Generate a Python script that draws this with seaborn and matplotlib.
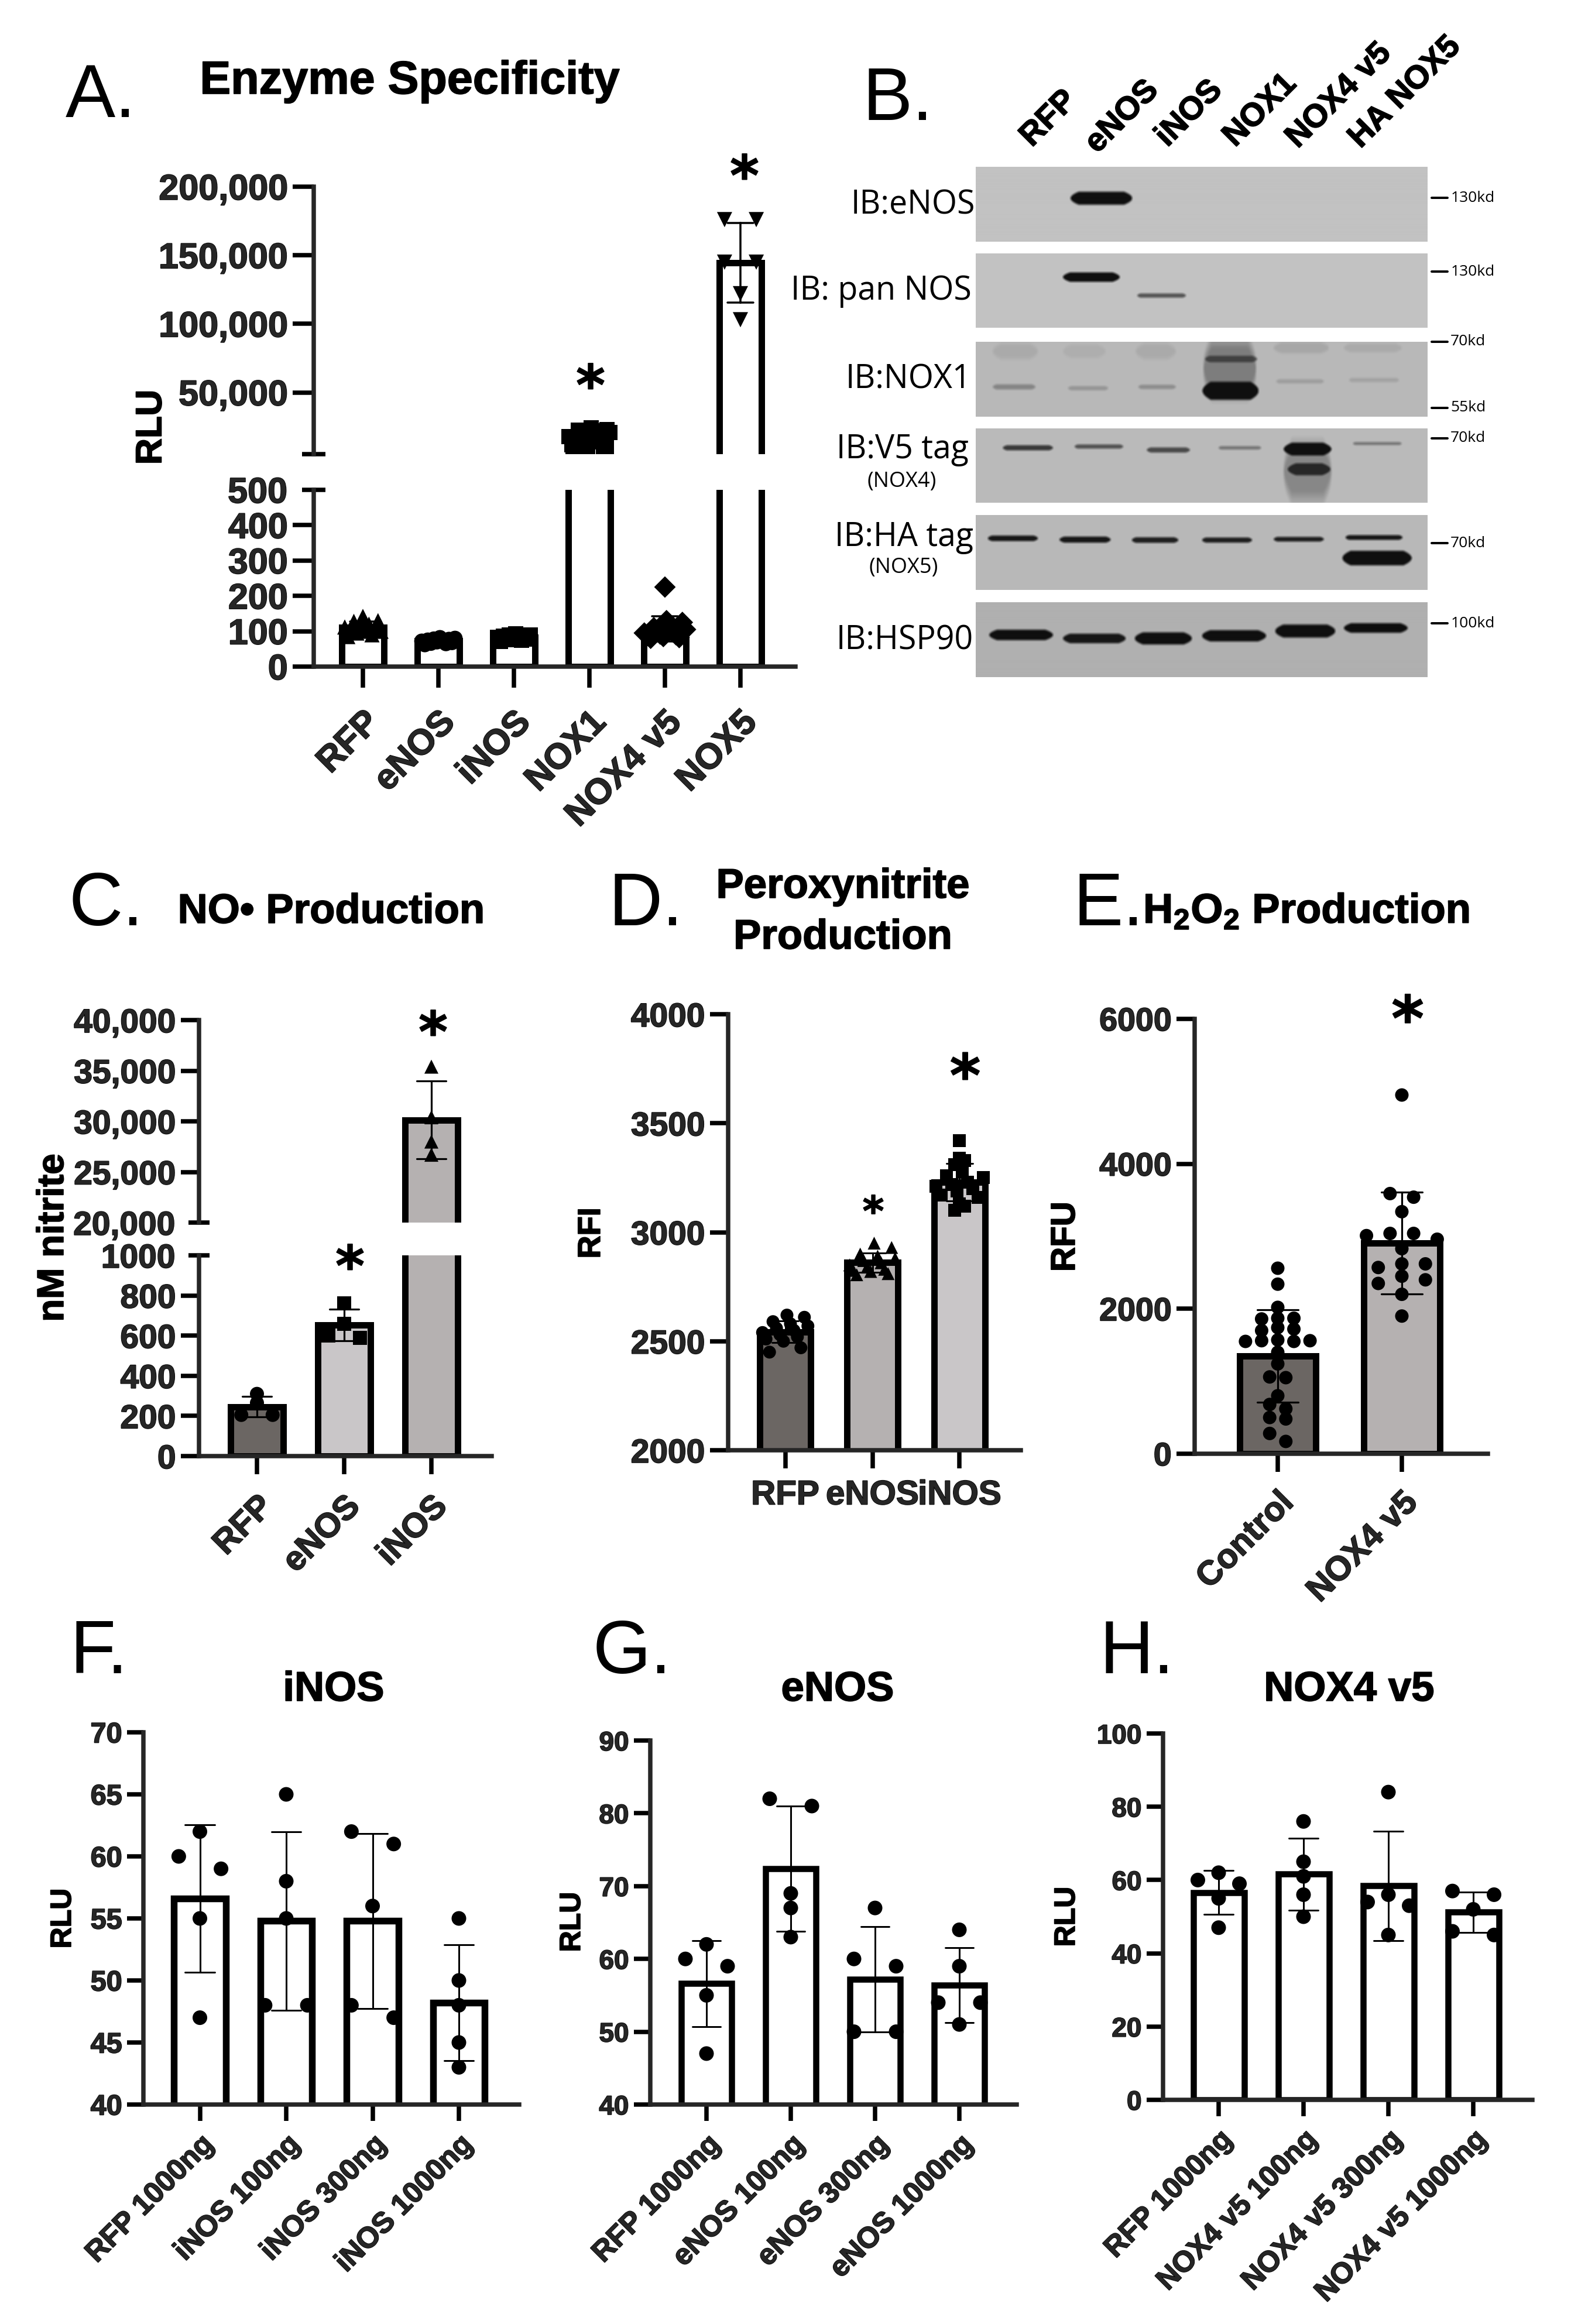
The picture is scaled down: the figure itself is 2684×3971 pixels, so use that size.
import math
import numpy as np
import pandas as pd
import matplotlib
matplotlib.use("Agg")
import matplotlib.pyplot as plt
import matplotlib.patheffects as pe
import matplotlib.text as mtext
import seaborn as sns

sns.set_theme(style="ticks")
plt.rcParams['font.family'] = ['Liberation Sans', 'DejaVu Sans']
plt.rcParams['mathtext.fontset'] = 'custom'
plt.rcParams['mathtext.bf'] = 'Liberation Sans:bold'
plt.rcParams['mathtext.rm'] = 'Liberation Sans'

W, H = 2684, 3971
PT = 0.72
DARK, MID, LIGHT = '#6b6663', '#b5b1b1', '#c9c6c8'

# ---------- data -----------------------------------------------------------
A_cats = ['RFP', 'eNOS', 'iNOS', 'NOX1', 'NOX4 v5', 'NOX5']
A_rfp = [142, 132, 128, 130, 120, 112, 110, 108, 105, 100, 100, 95, 90, 85]
A_enos = [82, 80, 78, 77, 75, 74, 72, 70, 68, 66, 65, 62]
A_inos = [92, 90, 89, 88, 86, 84, 82, 80, 78, 76, 74, 72]
A_nox1 = [24000, 23000, 22500, 22000, 21000, 20000, 19000, 18000, 16000, 14000, 12000, 10000, 9000, 8000]
A_nox4 = [225, 130, 125, 110, 108, 105, 100, 98, 95, 92, 90, 88, 85, 82, 80]
A_nox5 = [176000, 176000, 145000, 145000, 122000, 103000]
A_upper_ticks = [50000, 100000, 150000, 200000]
A_upper_labels = ['50,000', '100,000', '150,000', '200,000']
A_lower_ticks = [0, 100, 200, 300, 400]

C_cats = ['RFP', 'eNOS', 'iNOS']
C_rfp = [310, 265, 205, 205]
C_enos = [760, 660, 600, 590]
C_inos = [35400, 30400, 28000, 26700]
C_upper_ticks = [25000, 30000, 35000, 40000]
C_upper_labels = ['25,000', '30,000', '35,000', '40,000']
C_lower_ticks = [0, 200, 400, 600, 800]

D_cats = ['RFP', 'eNOS', 'iNOS']
D_rfp = [2620, 2610, 2590, 2580, 2570, 2560, 2550, 2540, 2530, 2520, 2510, 2500, 2470, 2450]
D_enos = [2950, 2930, 2900, 2890, 2880, 2870, 2860, 2850, 2840, 2830, 2825, 2820, 2810, 2805]
D_inos = [3420, 3340, 3330, 3310, 3275, 3260, 3250, 3230, 3220, 3210, 3200, 3190, 3170, 3160, 3130, 3120, 3100]
D_ticks = [2000, 2500, 3000, 3500, 4000]

E_cats = ['Control', 'NOX4 v5']
E_control = [2560, 2340, 2020, 1870, 1870, 1860, 1740, 1720, 1700, 1570, 1560, 1560, 1550, 1550,
             1400, 1240, 1060, 1050, 800, 680, 620, 500, 480, 280, 170]
E_nox4 = [4950, 3590, 3540, 3340, 3040, 3040, 3010, 2960, 2830, 2620, 2620, 2570, 2450, 2400, 2350, 2200, 1900]
E_ticks = [0, 2000, 4000, 6000]

F_cats = ['RFP 1000ng', 'iNOS 100ng', 'iNOS 300ng', 'iNOS 1000ng']
F_vals = [[62, 60, 59, 55, 47], [65, 58, 55, 48, 48], [62, 61, 56, 48, 47], [55, 50, 48, 45, 43]]
F_ticks = [40, 45, 50, 55, 60, 65, 70]

G_cats = ['RFP 1000ng', 'eNOS 100ng', 'eNOS 300ng', 'eNOS 1000ng']
G_vals = [[62, 60, 59, 55, 47], [82, 81, 69, 67, 63], [67, 60, 59, 50, 50], [64, 59, 54, 54, 51]]
G_ticks = [40, 50, 60, 70, 80, 90]

H_cats = ['RFP 1000ng', 'NOX4 v5 100ng', 'NOX4 v5 300ng', 'NOX4 v5 1000ng']
H_vals = [[62, 60, 59, 55, 47], [76, 65, 61, 56, 50], [84, 56, 54, 53, 45], [57, 56, 52, 46, 45]]
H_ticks = [0, 20, 40, 60, 80, 100]

B_lanes = ['RFP', 'eNOS', 'iNOS', 'NOX1', 'NOX4 v5', 'HA NOX5']
B_rows = ['IB:eNOS', 'IB: pan NOS', 'IB:NOX1', 'IB:V5 tag', 'IB:HA tag', 'IB:HSP90']
B_sizes = ['130kd', '130kd', '70kd', '55kd', '70kd', '70kd', '100kd']
# band = x start, x end, y centre, thickness, darkness (in crop-units of the blot region)
B_bands = [
    [(570, 693, 394, 30, 1.0)],
    [(555, 668, 577, 22, 1.0), (703, 800, 620, 10, .6)],
    [(415, 505, 750, 35, .08), (555, 640, 750, 30, .06), (700, 780, 750, 35, .08), (975, 1085, 742, 25, .1),
     (1115, 1230, 742, 20, .08), (415, 500, 833, 12, .3), (565, 645, 836, 10, .2), (705, 780, 833, 10, .25),
     (980, 1075, 820, 10, .15), (1125, 1225, 817, 10, .12), (835, 940, 790, 130, .35), (838, 942, 768, 15, .55),
     (833, 945, 842, 42, 1.0)],
    [(435, 535, 975, 12, .75), (578, 675, 972, 10, .6), (722, 808, 980, 12, .65), (865, 950, 975, 8, .4),
     (1133, 1230, 965, 7, .4), (995, 1090, 1030, 130, .3), (995, 1090, 978, 30, 1.0), (1003, 1088, 1025, 28, .8)],
    [(405, 505, 1186, 13, .95), (548, 650, 1189, 14, .95), (692, 785, 1190, 13, .9), (832, 932, 1190, 12, .9),
     (975, 1075, 1188, 11, .9), (1118, 1232, 1184, 11, .95), (1112, 1250, 1232, 34, 1.0)],
    [(408, 535, 1412, 24, 1), (555, 680, 1420, 22, .95), (698, 812, 1420, 28, 1), (832, 960, 1414, 26, 1),
     (978, 1098, 1403, 30, 1), (1115, 1242, 1396, 22, 1)],
]
B_grey = [.76, .76, .72, .73, .72, .69]

# ---------- helpers --------------------------------------------------------
fig = plt.figure(figsize=(W / 100, H / 100), dpi=100, facecolor='white')


def fx(x):
    return x / W


def fy(y):
    return 1 - y / H


def ftext(x, y, s, size, weight='bold', ha='center', va='baseline', rot=0, **kw):
    return fig.text(fx(x), fy(y), s, fontsize=size, fontweight=weight, ha=ha, va=va, rotation=rot,
                    color=kw.pop('color', 'black'), **kw)


def new_ax(l, r, t, b, c0, dx):
    ax = fig.add_axes([fx(l), fy(b), (r - l) / W, (b - t) / H])
    ax.patch.set_alpha(0)
    ax._lim = ((l - c0) / dx, (r - c0) / dx)
    return ax


def spread(vals, gap, d):
    """Prism-like: groups near-equal values in a row and centres each row."""
    v = sorted(vals, reverse=True)
    rows, cur = [], [v[0]]
    for a in v[1:]:
        if cur[-1] - a <= gap:
            cur.append(a)
        else:
            rows.append(cur)
            cur = [a]
    rows.append(cur)
    ys, xs = [], []
    for row in rows:
        n = len(row)
        off = (np.arange(n) - (n - 1) / 2) * d
        if n >= 5:
            k = max(2, round(n * .382))
            while math.gcd(k, n) != 1:
                k += 1
            order = list(off[(np.arange(n) * k + n // 2) % n])
        elif n % 2:
            order = sorted(off, key=lambda o: (abs(o), -o))
        else:
            order = sorted(off, key=lambda o: (abs(o), o))
        ys += row
        xs += order
    return np.array(xs), np.array(ys, dtype=float)


def bars(ax, cats, groups, colors, markers, gaps, ds, width, lw, ms, cap, elw, ylim):
    df = pd.DataFrame({'group': np.repeat(cats, [len(g) for g in groups]),
                       'value': np.concatenate(groups).astype(float)})
    sns.barplot(data=df, x='group', y='value', hue='group', order=cats, hue_order=cats, legend=False,
                palette=dict(zip(cats, colors)), saturation=1, width=width, edgecolor='black',
                linewidth=lw * PT, errorbar='sd', capsize=cap,
                err_kws={'color': 'black', 'linewidth': elw * PT}, ax=ax)
    for i, g in enumerate(groups):
        xs, ys = spread(g, gaps[i], ds[i])
        keep = (ys >= ylim[0]) & (ys <= ylim[1])
        if keep.any():
            sns.scatterplot(x=xs[keep] + i, y=ys[keep], marker=markers[i], s=(ms * PT) ** 2, color='black',
                            edgecolor='none', linewidth=0, ax=ax, zorder=6, legend=False)
    ax.set_xlim(*ax._lim)
    ax.set_ylim(*ylim)
    ax.set_xlabel('')
    ax.set_ylabel('')
    sns.despine(ax=ax)


def style(ax, yticks, ylabels, ysize, xlabels=None, xsize=None, tick=28, spine=7.5, rot=45, xpad=8, ypad=6):
    ax.set_yticks(yticks, labels=ylabels if ylabels is not None else [str(t) for t in yticks])
    ax.tick_params(axis='y', length=tick * PT, width=spine * PT, labelsize=ysize, pad=ypad, color='black')
    for s in ax.spines.values():
        s.set_linewidth(spine * PT)
    for lab in ax.get_yticklabels():
        lab.set_fontweight('bold')
    if xlabels is None:
        ax.spines['bottom'].set_visible(False)
        ax.tick_params(axis='x', bottom=False, labelbottom=False)
    else:
        ax.set_xticks(range(len(xlabels)), labels=xlabels)
        ax.tick_params(axis='x', length=tick * PT, width=spine * PT, labelsize=xsize, pad=xpad, color='black')
        for lab in ax.get_xticklabels():
            lab.set_fontweight('bold')
            if rot:
                lab.set(rotation=rot, ha='right', va='top', rotation_mode='anchor')


def cross(ax, val, label, size, half, pad):
    ax.set_yticks([val], labels=[label], minor=True)
    ax.tick_params(axis='y', which='minor', direction='inout', length=2 * half * PT, width=7.5 * PT,
                   labelsize=size, pad=pad, color='black')
    for lab in ax.get_yticklabels(minor=True):
        lab.set_fontweight('bold')


def star(x, y, size):
    ftext(x, y + .2 * size / PT, '*', size, va='center', family='DejaVu Sans')


LETTER = 92
# ---------- panel A --------------------------------------------------------
A_groups = [A_rfp, A_enos, A_inos, A_nox1, A_nox4, A_nox5]
A_mark = ['^', 'o', 's', 's', 'D', 'v']
A_gap = [8, 6, 6, 3000, 20, 15000]
A_d = [.04, .04, .04, .042, .042, .42]
for (t, b, ylim) in [(319, 776, (5000, 200000)), (837, 1139, (0, 500))]:
    ax = new_ax(536, 1359, t, b, 620, 129)
    bars(ax, A_cats, A_groups, ['white'] * 6, A_mark, A_gap, A_d, .56, 11, 26, .34, 3.5, ylim)
    if t == 319:
        style(ax, A_upper_ticks, A_upper_labels, 44, tick=36)
        cross(ax, 5000, '', 44, 20, 10)
    else:
        style(ax, A_lower_ticks, None, 44, A_cats, 44, tick=36, xpad=22)
        cross(ax, 500, '500', 44, 20, 18)
ftext(112, 200, 'A.', LETTER, weight='normal', ha='left')
ftext(700, 160, 'Enzyme Specificity', 57)
ftext(259, 730, 'RLU', 45, rot=90, va='center')
star(1009, 646, 68)
star(1272, 288, 68)

# ---------- panel B --------------------------------------------------------
B_rects = [(285, 413), (433, 560), (584, 712), (732, 859), (880, 1008), (1029, 1157)]
bx = lambda z: 1340 + .857 * z
by = lambda z: 50 + .733 * z
kernel = np.ones(5) / 5
for (t, b), bands, grey in zip(B_rects, B_bands, B_grey):
    ax = fig.add_axes([fx(1667), fy(b), 772 / W, (b - t) / H])
    Y, X = np.mgrid[t:b, 1667:2439]
    img = np.full(X.shape, grey, dtype=float)
    for z0, z1, zc, zt, dk in bands:
        x0, x1, yc, half = bx(z0), bx(z1), by(zc), .733 * zt / 2
        edge = np.clip(np.minimum(X - x0, x1 - X) / min(max(half * 1.5, 1), 14), 0, 1)
        h = half * np.sqrt(edge)
        soft = max(1.5, half * (.2 if dk > .5 else .6))
        a = np.clip((h - np.abs(Y - yc)) / soft + .5, 0, 1) * (edge > 0) * dk
        img = img * (1 - a) + .06 * a
    pad = np.pad(img, 2, mode='edge')
    pad = np.apply_along_axis(lambda r: np.convolve(r, kernel, mode='same'), 0, pad)
    pad = np.apply_along_axis(lambda r: np.convolve(r, kernel, mode='same'), 1, pad)
    ax.imshow(pad[2:-2, 2:-2], cmap='gray', vmin=0, vmax=1, aspect='auto')
    ax.axis('off')
ftext(1473, 205, 'B.', LETTER, weight='normal', ha='left')
B_lane_pos = [(470, 275), (600, 290), (740, 275), (875, 275), (1000, 278), (1125, 278)]
for name, (zx, zy) in zip(B_lanes, B_lane_pos):
    ftext(bx(zx) + 20, by(zy) + 1, name, 40, ha='left', va='baseline', rot=45, rotation_mode='anchor')
B_row_y = [410, 610, 817, 980, 1185, 1425]
B_row_right = [380, 373, 373, 367, 377, 377]
for name, zy, zr in zip(B_rows, B_row_y, B_row_right):
    ftext(bx(zr), by(zy), name, 40, weight='normal', ha='right', va='center', family='Open Sans')
ftext(bx(234), by(1055), '(NOX4)', 26, weight='normal', va='center', family='Open Sans')
ftext(bx(238), by(1255), '(NOX5)', 26, weight='normal', va='center', family='Open Sans')
B_size_y = [393, 565, 728, 882, 953, 1198, 1385]
for s, zy in zip(B_sizes, B_size_y):
    fig.add_artist(plt.Line2D([fx(bx(1290)), fx(bx(1322))], [fy(by(zy)), fy(by(zy))], color='black',
                              lw=4 * PT, transform=fig.transFigure))
    ftext(bx(1328), by(zy), s, 19, weight='normal', ha='left', va='center', family='Open Sans')

# ---------- panel C --------------------------------------------------------
C_groups = [C_rfp, C_enos, C_inos]
for (t, b, ylim) in [(1743, 2089, (20000, 40000)), (2145, 2488, (0, 1000))]:
    ax = new_ax(340, 840, t, b, 439, 149)
    bars(ax, C_cats, C_groups, [DARK, LIGHT, MID], ['o', 's', '^'], [20, 20, 100], [.36, .36, .36],
         .6, 11, 24, .33, 3.2, ylim)
    if t == 1743:
        style(ax, C_upper_ticks, C_upper_labels, 41, tick=31)
        cross(ax, 20000, '20,000', 41, 18, 16)
    else:
        style(ax, C_lower_ticks, None, 41, C_cats, 42, tick=31, xpad=20)
        cross(ax, 1000, '1000', 41, 18, 16)
ftext(118, 1581, 'C.', LETTER, weight='normal', ha='left')
ftext(566, 1577, 'NO• Production', 51)
ftext(91, 2115, 'nM nitrite', 46, rot=90, va='center')
star(598, 2151, 68)
star(740, 1751, 68)

# ---------- panel D --------------------------------------------------------
ax = new_ax(1244, 1744, 1733, 2478, 1341.5, 149)
bars(ax, D_cats, [D_rfp, D_enos, D_inos], [DARK, MID, LIGHT], ['o', '^', 's'], [30, 30, 25], [.04, .04, .06],
     .58, 11, 22, .3, 3, (2000, 4000))
style(ax, D_ticks, None, 41, D_cats, 42, tick=31, rot=0, xpad=14)
ftext(1039, 1581, 'D.', LETTER, weight='normal', ha='left')
ftext(1440, 1534, 'Peroxynitrite', 51)
ftext(1440, 1621, 'Production', 51)
ftext(1011, 2107, 'RFI', 39, rot=90, va='center')
star(1492, 2060, 50)
star(1649, 1825, 72)

# ---------- panel E --------------------------------------------------------
ax = new_ax(2041, 2542, 1741, 2484, 2183, 212)
bars(ax, E_cats, [E_control, E_nox4], [DARK, MID], ['o', 'o'], [110, 110], [.13, .19],
     .61, 11, 23, .33, 3.2, (0, 6000))
style(ax, E_ticks, None, 40, E_cats, 42, tick=31, xpad=18)
ftext(1834, 1581, 'E.', LETTER, weight='normal', ha='left')
ftext(2232, 1577, r'$\mathbf{H_2O_2}$ Production', 51)
ftext(1821, 2113, 'RFU', 42, rot=90, va='center')
star(2405, 1727, 76)

# ---------- panels F, G, H ---------------------------------------------------
ax = new_ax(245, 887, 2960, 3596, 341.5, 147.5)
bars(ax, F_cats, F_vals, ['white'] * 4, ['o'] * 4, [1.5] * 4, [.49] * 4, .6, 11.5, 25, .34, 3, (40, 70))
style(ax, F_ticks, None, 35, F_cats, 36, tick=28, xpad=12)
ftext(120, 2859, 'F.', LETTER, weight='normal', ha='left')
ftext(570, 2906, 'iNOS', 51)
ftext(108, 3278, 'RLU', 36, rot=90, va='center')

ax = new_ax(1111, 1737, 2974, 3596, 1207, 144)
bars(ax, G_cats, G_vals, ['white'] * 4, ['o'] * 4, [1.5] * 4, [.5] * 4, .6, 10.5, 25, .34, 3, (40, 90))
style(ax, G_ticks, None, 33, G_cats, 36, tick=28, xpad=12)
ftext(1013, 2859, 'G.', LETTER, weight='normal', ha='left')
ftext(1431, 2906, 'eNOS', 51)
ftext(978, 3284, 'RLU', 36, rot=90, va='center')

ax = new_ax(1987, 2618, 2962, 3588, 2082, 145)
bars(ax, H_cats, H_vals, ['white'] * 4, ['o'] * 4, [1.5] * 4, [.49] * 4, .6, 10.5, 25, .34, 3, (0, 100))
style(ax, H_ticks, None, 33, H_cats, 36, tick=28, xpad=12)
ftext(1878, 2859, 'H.', LETTER, weight='normal', ha='left')
ftext(2305, 2906, 'NOX4 v5', 51)
ftext(1823, 3275, 'RLU', 36, rot=90, va='center')

# slightly heavier bold text, as in the reference
for t in fig.findobj(mtext.Text):
    if t.get_fontweight() == 'bold' and t.get_text():
        t.set_path_effects([pe.withStroke(linewidth=1.2, foreground='black')])

fig.savefig('out.png', dpi=100, facecolor='white')
